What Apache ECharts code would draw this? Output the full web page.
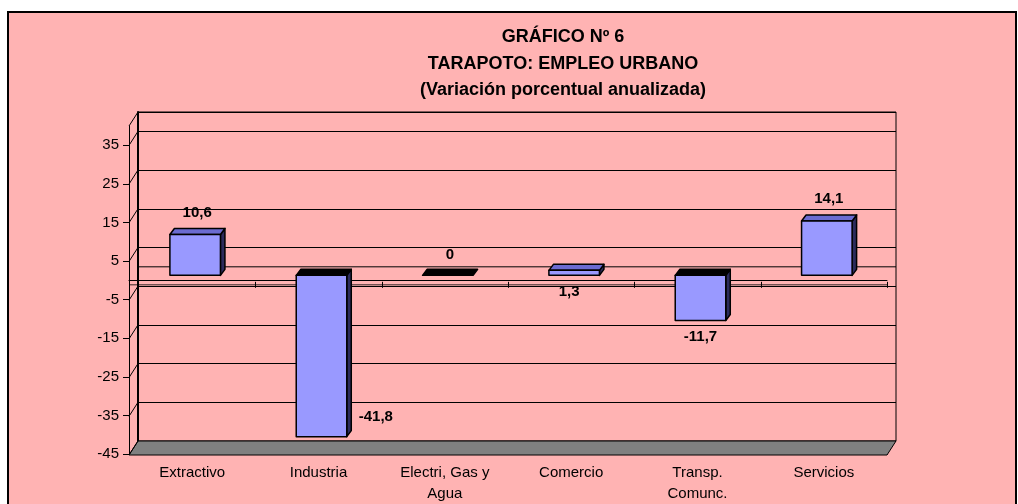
<!DOCTYPE html>
<html><head><meta charset="utf-8">
<script src="https://cdn.jsdelivr.net/npm/echarts@6/dist/echarts.min.js"></script>
<style>html,body{margin:0;padding:0;background:#fff}#c{width:1018px;height:504px}</style>
</head><body><div id="c"></div>
<script>
// ---- data ----
const titleLines = ['GRÁFICO Nº 6', 'TARAPOTO: EMPLEO URBANO', '(Variación porcentual anualizada)'];
const categories = ['Extractivo', 'Industria', 'Electri, Gas y\nAgua', 'Comercio', 'Transp.\nComunc.', 'Servicios'];
const values = [10.6, -41.8, 0, 1.3, -11.7, 14.1];
const yTicks = [-45, -35, -25, -15, -5, 5, 15, 25, 35];
const yMin = -45, yMax = 40, yStep = 10;

// ---- rendering ----
const FONT = '"Liberation Sans", Arial, sans-serif';
const DX = 9, DY = 14;           // depth of the 3D box (front -> back)
const labelSide = {1: 'right', 3: 'below'};

const chart = echarts.init(document.getElementById('c'), null, {renderer: 'canvas'});

const frameSeries = {
  type: 'custom', xAxisIndex: 2, yAxisIndex: 1, z: 1, silent: true,
  data: [[0, 0]],
  renderItem(params, api) {
    const cs = params.coordSys;
    const L = cs.x, R = cs.x + cs.width;
    const ls = {stroke: '#000', lineWidth: 1, fill: null};
    const children = [];
    const yb = api.coord([0, yMin])[1];
    children.push({type: 'polygon', shape: {points: [[L, yb], [R, yb], [R - DX, yb + DY], [L - DX, yb + DY]]},
      style: {fill: '#808080', stroke: '#000', lineWidth: 1}});
    yTicks.concat([yMax]).forEach(t => {
      const y = api.coord([0, t])[1];
      children.push({type: 'line', shape: {x1: L, y1: y, x2: L - DX, y2: y + DY}, style: ls});
    });
    const y0 = api.coord([0, 0])[1];
    children.push({type: 'line', shape: {x1: L, y1: y0, x2: R, y2: y0}, style: ls});
    const yf = y0 + DY + 1;
    children.push({type: 'line', shape: {x1: L - DX, y1: yf + 3, x2: R - DX, y2: yf + 3}, style: {stroke: '#000', lineWidth: 0.8}});
    const band = api.size([1, 0])[0];
    for (let k = 0; k <= categories.length; k++) {
      const x = Math.round(L - DX + k * band) + 0.5;
      children.push({type: 'line', shape: {x1: x, y1: yf, x2: x, y2: yf + 6}, style: ls});
    }
    return {type: 'group', children};
  }
};

const barSeries = {
  type: 'custom', xAxisIndex: 0, yAxisIndex: 0, z: 3, silent: true,
  data: values.map((v, i) => [i, v]),
  encode: {x: 0, y: 1},
  renderItem(params, api) {
    const i = params.dataIndex;
    const v = api.value(1);
    const p0 = api.coord([i, 0]);
    const pv = api.coord([i, v]);
    const hw = api.size([1, 0])[0] * 0.2;
    const fx = 3, fy = -5, bx = 4.5, by = -6;
    const xl = p0[0] + fx - hw, xr = p0[0] + fx + hw;
    const yz = p0[1] + fy, yv = pv[1] + fy;
    const top = Math.min(yz, yv), bot = Math.max(yz, yv);
    const capY = v > 0 ? yv : yz;
    const edge = {stroke: '#000', lineWidth: 1.5, lineJoin: 'round'};
    const children = [];
    if (v !== 0) {
      children.push({type: 'polygon', shape: {points: [[xr, top], [xr + bx, top + by], [xr + bx, bot + by], [xr, bot]]},
        style: Object.assign({fill: '#2B2B5C'}, edge)});
    }
    children.push({type: 'polygon', shape: {points: [[xl, capY], [xr, capY], [xr + bx, capY + by], [xl + bx, capY + by]]},
      style: Object.assign({fill: v > 0 ? '#6B6BD0' : '#000'}, edge)});
    if (v !== 0) {
      children.push({type: 'rect', shape: {x: xl, y: top, width: xr - xl, height: bot - top},
        style: Object.assign({fill: '#9999FF'}, edge)});
    }
    const text = String(v).replace('.', ',');
    const side = labelSide[i] || (v >= 0 ? 'above' : 'below');
    let tx, ty, align = 'center';
    const fc = (xl + xr) / 2;
    if (side === 'above') { tx = fc + 2; ty = yv - (v === 0 ? 20 : 22); }
    else if (side === 'below') { tx = v > 0 ? fc - 5 : fc; ty = bot + 16.5; }
    else { tx = xr + 12; ty = bot - 20; align = 'left'; }
    children.push({type: 'text', style: {text, x: tx, y: ty, align, verticalAlign: 'middle',
      fontFamily: FONT, fontWeight: 'bold', fontSize: 15, fill: '#000'}});
    return {type: 'group', children};
  }
};

const option = {
  animation: false,
  backgroundColor: '#ffffff',
  graphic: [{type: 'rect', z: -100, silent: true, shape: {x: 8, y: 12, width: 1008, height: 600},
    style: {fill: '#FFB3B3', stroke: '#000', lineWidth: 2}}],
  title: {
    text: titleLines.join('\n'), left: 563, top: 24, textAlign: 'center', padding: 0,
    textStyle: {fontFamily: FONT, fontWeight: 'bold', fontSize: 18, lineHeight: 26.5, color: '#000'}
  },
  grid: [
    {left: 129, right: 131, top: 126, bottom: 49},
    {left: 138, right: 122, top: 112, bottom: 63, show: true, borderColor: '#000', borderWidth: 1, backgroundColor: 'transparent'}
  ],
  xAxis: [
    {gridIndex: 0, type: 'category', data: categories,
      axisLine: {onZero: false, lineStyle: {color: '#000', width: 1}},
      axisTick: {length: 7, lineStyle: {color: '#000'}},
      axisLabel: {color: '#000', fontFamily: FONT, fontSize: 15, lineHeight: 21, margin: 8, interval: 0}},
    {gridIndex: 0, type: 'category', data: categories, position: 'top',
      axisLine: {onZero: true, lineStyle: {color: '#000', width: 1}},
      axisTick: {show: false},
      axisLabel: {show: false}},
    {gridIndex: 1, type: 'category', data: categories, show: false}
  ],
  yAxis: [
    {gridIndex: 0, type: 'value', min: yMin, max: yMax, interval: yStep,
      axisLine: {show: true, onZero: false, lineStyle: {color: '#000'}},
      axisTick: {show: true, length: 6, lineStyle: {color: '#000'}},
      axisLabel: {showMaxLabel: false, margin: 10, fontSize: 15, color: '#000', fontFamily: FONT},
      splitLine: {show: false}},
    {gridIndex: 1, type: 'value', min: yMin, max: yMax, interval: yStep,
      axisLine: {show: true, onZero: false, lineStyle: {color: '#000', width: 2}},
      axisTick: {show: false}, axisLabel: {show: false},
      splitLine: {show: true, lineStyle: {color: '#000', width: 1}}}
  ],
  series: [frameSeries, barSeries]
};
chart.setOption(option);
</script></body></html>
